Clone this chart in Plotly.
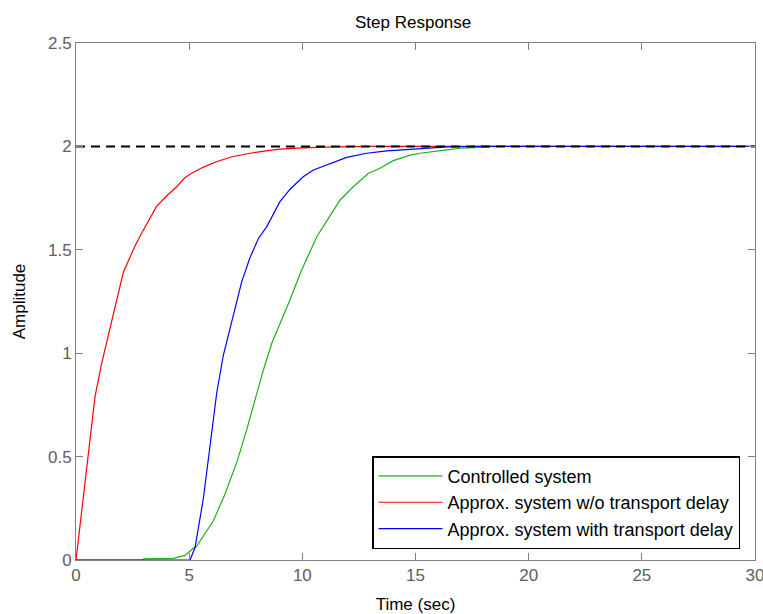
import plotly.graph_objects as go

# Controlled system (green)
t_ctrl = [0, 2.9, 3.0, 4.3, 4.82, 5.18, 5.33, 6.07, 6.58, 7.12, 7.54, 7.98, 8.28, 8.65,
          9.01, 9.46, 9.97, 10.64, 11.15, 11.67, 12.25, 12.92, 13.43, 14.02, 14.76,
          15.2, 16.38, 16.97, 18.15, 18.3]
y_ctrl = [0, 0, 0.005, 0.008, 0.022, 0.057, 0.066, 0.19, 0.318, 0.478, 0.629, 0.806, 0.919, 1.048,
          1.14, 1.26, 1.402, 1.563, 1.652, 1.741, 1.805, 1.87, 1.894, 1.931, 1.958,
          1.967, 1.983, 1.991, 1.996, 1.997]

# Approx. system without transport delay (red)
t_nodelay = [0, 0.32, 0.54, 0.84, 1.13, 1.36, 1.72, 2.09, 2.39, 2.61, 2.90, 3.20, 3.56,
             4.00, 4.45, 4.82, 5.11, 5.63, 6.20, 6.88, 7.69, 8.4, 9.0, 10.0, 11.4, 13.0, 30.0]
y_nodelay = [0, 0.31, 0.53, 0.79, 0.95, 1.05, 1.22, 1.39, 1.47, 1.52, 1.58, 1.64, 1.71,
             1.76, 1.805, 1.85, 1.87, 1.90, 1.926, 1.95, 1.967, 1.978, 1.987, 1.993, 1.998, 2.0, 2.0]

# Approx. system with transport delay (blue)
t_delay = [0, 5.04, 5.26, 5.63, 5.92, 6.07, 6.22, 6.51, 6.95, 7.32, 7.69, 8.06, 8.43, 8.72,
           9.01, 9.46, 10.04, 10.49, 11.22, 11.96, 12.85, 13.73, 14.76, 16.4, 18.0, 30.0]
y_delay = [0, 0, 0.06, 0.30, 0.55, 0.68, 0.81, 0.99, 1.19, 1.345, 1.463, 1.555, 1.612, 1.676,
           1.733, 1.793, 1.853, 1.886, 1.918, 1.947, 1.967, 1.978, 1.986, 1.998, 2.0, 2.0]

# Final value reference
t_ref = [0, 30]
y_ref = [2, 2]

names = ["Controlled system", "Approx. system w/o transport delay",
         "Approx. system with transport delay"]
colors = ["#1fae1f", "#ff0000", "#0000ff"]

x_ticks = [0, 5, 10, 15, 20, 25, 30]
y_ticks = [0, 0.5, 1, 1.5, 2, 2.5]
y_tick_text = ["0", "0.5", "1", "1.5", "2", "2.5"]

FONT = "Liberation Sans, Arial, sans-serif"

fig = go.Figure()
for t, y, n, c in zip([t_ctrl, t_nodelay, t_delay], [y_ctrl, y_nodelay, y_delay], names, colors):
    fig.add_trace(go.Scatter(x=t, y=y, mode="lines", name=n,
                             line=dict(color=c, width=1.2)))
fig.add_trace(go.Scatter(x=t_ref, y=y_ref, mode="lines", showlegend=False,
                         line=dict(color="black", width=2, dash="9px,6px")))

axis_common = dict(showline=True, linecolor="#808080", linewidth=1, mirror="ticks",
                   ticks="inside", ticklen=7, tickcolor="#808080", showgrid=False,
                   zeroline=False, ticklabeloverflow="allow", automargin=False,
                   tickfont=dict(family=FONT, size=17, color="#606060"))

fig.update_layout(
    width=763, height=614,
    margin=dict(l=76, r=8, t=43, b=54),
    plot_bgcolor="white", paper_bgcolor="white",
    title=dict(text="Step Response", x=0.5415, xanchor="center", y=0.964, yanchor="middle",
               font=dict(family=FONT, size=17, color="black")),
    xaxis=dict(range=[0, 30], tickvals=x_ticks, ticktext=[str(v) for v in x_ticks],
               title=dict(text="Time (sec)", font=dict(family=FONT, size=17, color="black"),
                          standoff=14),
               **axis_common),
    yaxis=dict(range=[0, 2.5], tickvals=y_ticks, ticktext=y_tick_text,
               title=dict(text="Amplitude", font=dict(family=FONT, size=17, color="black"),
                          standoff=18),
               **axis_common),
    legend=dict(x=0.978, xanchor="right", y=0.021, yanchor="bottom",
                bgcolor="white", bordercolor="black", borderwidth=1.5,
                font=dict(family=FONT, size=18, color="black"), itemwidth=64),
    showlegend=True,
)

fig.write_html("out.html")
